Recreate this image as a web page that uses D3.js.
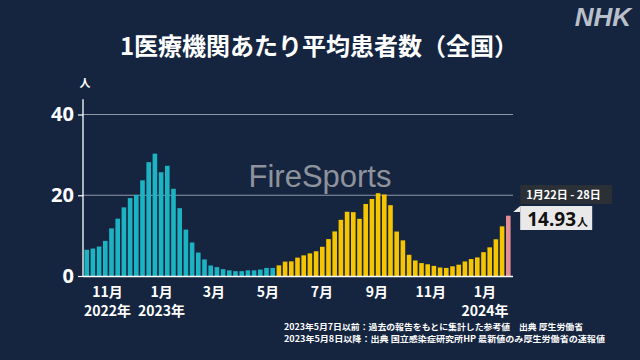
<!DOCTYPE html>
<html><head><meta charset="utf-8">
<script src="https://cdn.jsdelivr.net/npm/d3@7"></script>
<style>
html,body{margin:0;padding:0;background:#15253f;}
svg{display:block;}
text{font-family:"Noto Sans CJK JP","Noto Sans",sans-serif;}
</style></head>
<body>
<script>
// ---- data ----
const startWeek = "2022-10-03"; // Monday of the first weekly bar
const refValues = [6.5, 6.8, 7.3, 8.7, 11.8, 14.2, 17.0, 19.3, 20.1, 23.7, 28.2, 30.3, 25.7, 27.3, 21.6,
  16.8, 11.5, 8.3, 5.8, 4.1, 2.6, 2.2, 1.7, 1.4, 1.2, 1.2, 1.4, 1.4, 1.6, 2.0, 2.0];
const newValues = [2.63, 3.56, 3.63, 4.55, 5.11, 5.60, 6.13, 7.24, 9.14, 11.04, 13.91, 15.91, 15.81, 14.16,
  17.84, 19.07, 20.50, 20.19, 17.54, 11.01, 8.83, 5.25, 3.85, 3.2, 2.9, 2.5, 2.1, 2.0, 2.4, 2.8, 3.6, 4.2,
  4.6, 5.9, 7.1, 9.1, 12.3];
const latestValue = 14.93;
const latestLabel = "1月22日 - 28日";
const monthTicks = ["2022-11-01","2023-01-01","2023-03-01","2023-05-01","2023-07-01","2023-09-01","2023-11-01","2024-01-01"];
const monthLabels = ["11月","1月","3月","5月","7月","9月","11月","1月"];
const yearLabels = ["2022年","2023年","","","","","","2024年"];
const yTicks = [0, 20, 40];
const title = "1医療機関あたり平均患者数（全国）";
const notes = ["2023年5月7日以前：過去の報告をもとに集計した参考値　出典 厚生労働省",
               "2023年5月8日以降：出典 国立感染症研究所HP 最新値のみ厚生労働省の速報値"];

// ---- build ----
const W = 640, H = 360;
const parse = d3.utcParse("%Y-%m-%d");
const start = parse(startWeek);
const rows = [];
refValues.forEach(v => rows.push({v, kind:"ref"}));
newValues.forEach(v => rows.push({v, kind:"new"}));
rows.push({v: latestValue, kind:"latest"});
rows.forEach((d,i) => d.date = d3.utcMonday.offset(start, i));
const N = rows.length;

const svg = d3.select("body").append("svg").attr("width", W).attr("height", H);
svg.append("rect").attr("width", W).attr("height", H).attr("fill", "#15253f");

const x = d3.scaleUtc().domain([start, d3.utcMonday.offset(start, N)]).range([84.4, 84.4 + N * 6.2]);
const step = x(d3.utcMonday.offset(start,1)) - x(start);
const y = d3.scaleLinear().domain([0, 40]).range([276, 114.5]);
const axisX = 83, rightX = 513;

// gridlines
svg.append("g").selectAll("line").data(yTicks.filter(t => t > 0)).join("line")
  .attr("x1", axisX).attr("x2", rightX).attr("y1", d => y(d)).attr("y2", d => y(d))
  .attr("stroke", "#8d97a8").attr("stroke-width", 1);

// watermark
svg.append("text").attr("x", 320).attr("y", 187).attr("text-anchor", "middle")
  .style("font-family", "'Liberation Sans',Arial,sans-serif").style("font-size", "31px")
  .attr("fill", "#8e939c").text("FireSports");

// bars
const colors = {ref:"#1cb4c3", new:"#f6c500", latest:"#e58d95"};
svg.append("g").selectAll("rect").data(rows).join("rect")
  .attr("x", d => x(d.date)).attr("width", step * 0.74)
  .attr("y", d => y(d.v)).attr("height", d => y(0) - y(d.v))
  .attr("fill", d => colors[d.kind]);

// y axis
const yAxis = d3.axisLeft(y).tickValues(yTicks).tickSize(5).tickPadding(4);
const gy = svg.append("g").attr("transform", `translate(${axisX},0)`).call(yAxis);
gy.select(".domain").remove();
gy.selectAll(".tick line").attr("stroke", "#ffffff").attr("stroke-width", 1.2);
gy.selectAll(".tick text").attr("fill", "#ffffff").style("font-size", "20px").style("font-weight", "700")
  .style("font-family", "'Noto Sans','Noto Sans CJK JP',sans-serif");
svg.append("line").attr("x1", axisX).attr("x2", axisX).attr("y1", y(0)).attr("y2", y(43.8))
  .attr("stroke", "#ffffff").attr("stroke-width", 1.3);
svg.append("text").attr("x", axisX + 2).attr("y", 87).attr("text-anchor", "middle")
  .attr("fill", "#ffffff").style("font-size", "11px").style("font-weight", "700").text("人");

// baseline
svg.append("line").attr("x1", axisX).attr("x2", rightX).attr("y1", y(0) + 0.5).attr("y2", y(0) + 0.5)
  .attr("stroke", "#ffffff").attr("stroke-width", 1.6);

// x labels (month with optional year line beneath)
const xl = svg.append("g").selectAll("text").data(monthTicks).join("text")
  .attr("x", d => x(parse(d)) - 2.5).attr("y", 297.2).attr("text-anchor", "middle")
  .attr("fill", "#ffffff").style("font-size", "14px").style("font-weight", "700");
xl.append("tspan").text((d,i) => monthLabels[i]);
xl.filter((d,i) => yearLabels[i] !== "").append("tspan")
  .attr("x", d => x(parse(d)) - 2.5).attr("dy", 18.6).text(d => yearLabels[monthTicks.indexOf(d)]);

// title
svg.append("text").attr("x", 319).attr("y", 55).attr("text-anchor", "middle")
  .attr("fill", "#ffffff").style("font-size", "24px").style("font-weight", "700").text(title);

// NHK logo
svg.append("text").attr("x", 631).attr("y", 26).attr("text-anchor", "end")
  .attr("fill", "#b9c0cc").style("font-family", "'Liberation Sans',Arial,sans-serif")
  .style("font-size", "26px").style("font-weight", "700").style("font-style", "italic").text("NHK");

// notes
const noteLen = [299, 321];
svg.append("g").selectAll("text").data(notes).join("text")
  .attr("x", 284).attr("y", (d,i) => 330 + i * 12)
  .attr("textLength", (d,i) => noteLen[i]).attr("lengthAdjust", "spacingAndGlyphs")
  .attr("fill", "#ffffff").style("font-size", "8.2px").style("font-weight", "700").text(d => d);

// annotation
const last = rows[N - 1];
const bx = x(last.date) + step + 8;
const ann = svg.append("g");
ann.append("rect").attr("x", bx).attr("y", 185).attr("width", 92).attr("height", 19).attr("fill", "#2b2f36");
ann.append("text").attr("x", bx + 6).attr("y", 199).attr("fill", "#ffffff")
  .style("font-size", "11px").style("font-weight", "700").text(latestLabel);
ann.append("rect").attr("x", bx).attr("y", 206).attr("width", 72).attr("height", 24).attr("fill", "#e9e9e9");
ann.append("path").attr("d", `M${bx-7},${212}L${bx},${206}L${bx},${212}Z`).attr("fill", "#e9e9e9");
const vt = ann.append("text").attr("x", bx + 7).attr("y", 226).attr("fill", "#111111").style("font-weight", "700");
vt.append("tspan").style("font-size", "19px").style("font-family", "'Noto Sans',sans-serif").text(d3.format(".2f")(latestValue));
vt.append("tspan").style("font-size", "11px").attr("dx", 1).text("人");
</script>
</body></html>
